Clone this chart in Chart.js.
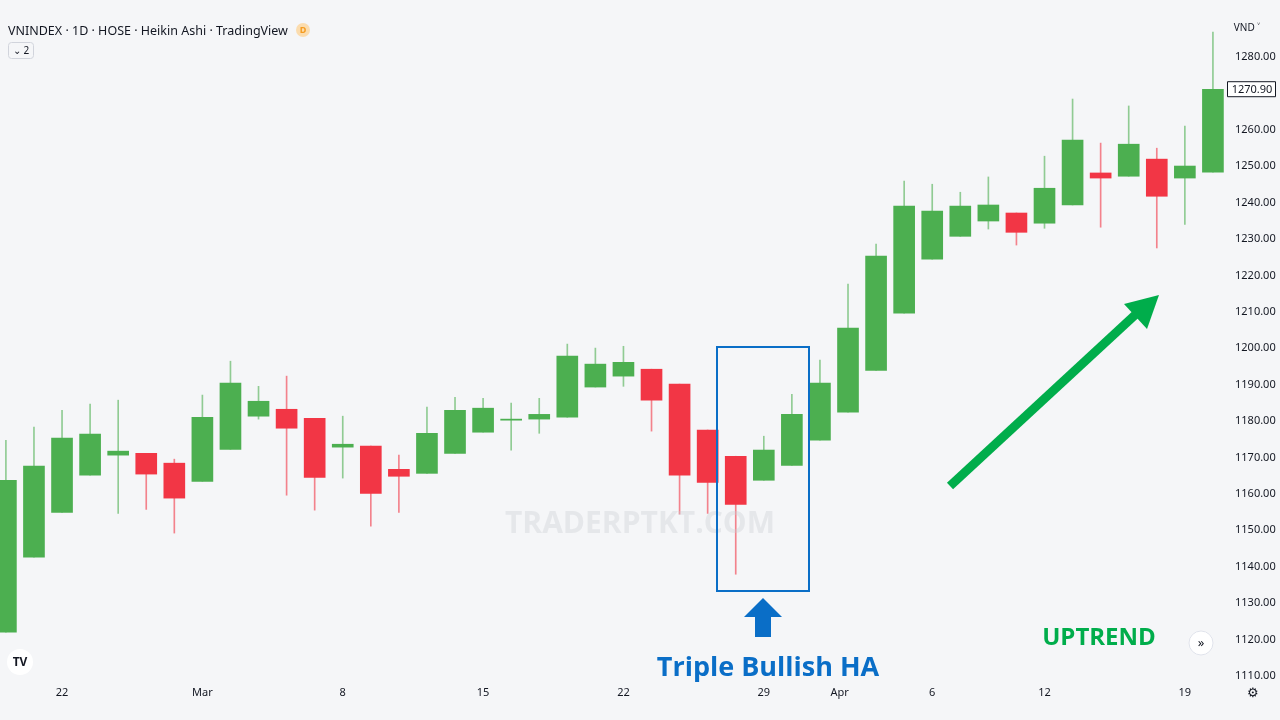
<!DOCTYPE html>
<html><head><meta charset="utf-8">
<script src="https://cdn.jsdelivr.net/npm/chart.js@4/dist/chart.umd.min.js"></script>
<style>html,body{margin:0;padding:0;background:#f5f6f8;}#w{width:1280px;height:720px;position:relative}</style>
</head><body><div id="w"><canvas id="c" width="1280" height="720"></canvas></div>
<script>
const opens  = [1121.8,1142.4,1154.7,1164.9,1170.4,1170.9,1168.2,1163.2,1172.0,1181.1,1183.0,1180.5,1172.6,1172.9,1166.5,1165.4,1170.9,1176.7,1180.0,1180.3,1180.8,1189.1,1192.1,1194.0,1189.9,1177.3,1170.1,1163.5,1167.6,1174.5,1182.2,1193.7,1209.4,1224.2,1230.5,1234.7,1236.9,1234.1,1239.1,1247.9,1247.0,1251.7,1246.5,1248.1];
const closes = [1163.5,1167.4,1175.1,1176.2,1171.5,1165.2,1158.6,1180.8,1190.2,1185.2,1177.8,1164.3,1173.4,1159.9,1164.6,1176.4,1182.7,1183.3,1180.3,1181.6,1197.6,1195.4,1195.9,1185.5,1164.9,1162.9,1156.9,1171.8,1181.6,1190.2,1205.3,1225.1,1238.8,1237.4,1238.8,1239.1,1231.6,1243.7,1256.9,1246.5,1255.8,1241.5,1249.8,1270.9];
const highs  = [1174.5,1178.1,1182.7,1184.4,1185.5,1170.9,1169.3,1186.9,1196.2,1189.3,1192.1,1180.5,1181.1,1172.9,1170.4,1183.6,1186.3,1186.0,1184.7,1186.0,1200.9,1199.8,1200.3,1194.0,1189.9,1177.3,1170.1,1175.6,1187.1,1196.5,1217.4,1228.4,1245.7,1244.8,1242.6,1246.8,1236.9,1252.5,1268.2,1256.1,1266.3,1254.7,1260.8,1286.6];
const lows   = [1121.8,1142.4,1154.7,1164.9,1154.4,1155.5,1149.0,1163.2,1172.0,1180.3,1159.4,1155.3,1164.1,1150.9,1154.7,1165.4,1170.9,1176.7,1171.8,1176.4,1180.8,1189.1,1189.3,1177.0,1154.2,1154.4,1137.7,1163.5,1167.6,1174.5,1182.2,1193.7,1209.4,1224.2,1230.5,1232.5,1228.1,1232.7,1239.1,1233.0,1247.0,1227.3,1233.8,1248.1];
const tickPositions = [2,7,12,17,22,27,29.7,33,37,42];
const tickTexts = ['22','Mar','8','15','22','29','Apr','6','12','19'];
const priceTicks = [1110,1120,1130,1140,1150,1160,1170,1180,1190,1200,1210,1220,1230,1240,1250,1260,1270,1280];
const lastPrice = 1270.90;

const G='#4caf50', R='#f23645';
const idx = opens.map((_,i)=>i);
const colors = idx.map(i=> closes[i]>=opens[i]?G:R);
const wickColors = idx.map(i=> closes[i]>=opens[i]?'rgba(76,175,80,0.6)':'rgba(242,54,69,0.6)');

const overlay = {
  id:'overlay',
  afterDraw(ch){
    const c=ch.ctx, xs=ch.scales.x, ys=ch.scales.y; c.save();
    c.fillStyle='#131722'; c.font='11px "Noto Sans", sans-serif'; c.textAlign='left';
    priceTicks.forEach(v=>{ if(v===1270) return; c.fillText(v.toFixed(2),1235,ys.getPixelForValue(v)+4); });
    c.textAlign='center';
    tickPositions.forEach((v,i)=>c.fillText(tickTexts[i],xs.getPixelForValue(v),696));
    c.fillStyle='rgba(200,202,208,0.35)'; c.font='bold 30px "Open Sans", sans-serif';
    c.fillText('TRADERPTKT.COM',640,533);
    c.textAlign='left'; c.fillStyle='#131722'; c.font='12.5px "Noto Sans", sans-serif';
    c.fillText('VNINDEX · 1D · HOSE · Heikin Ashi · TradingView',8,35);
    c.fillStyle='#fbdcae'; c.beginPath(); c.arc(303,30,7,0,Math.PI*2); c.fill();
    c.fillStyle='#f59b1f'; c.font='bold 9px "Noto Sans"'; c.textAlign='center'; c.fillText('D',303,33);
    c.strokeStyle='#d1d4dc'; c.lineWidth=1; c.beginPath(); c.roundRect(8.5,42.5,25,16,3); c.stroke();
    c.fillStyle='#131722'; c.font='10px "Noto Sans"'; c.fillText('⌄ 2',21,54);
    c.fillText('VND ˅',1247,31);
    const yp=ys.getPixelForValue(lastPrice);
    c.fillStyle='#fff'; c.strokeStyle='#131722'; c.beginPath(); c.rect(1227.5,yp-7.5,48,15); c.fill(); c.stroke();
    c.fillStyle='#131722'; c.font='11px "Noto Sans"'; c.fillText('1270.90',1252,yp+4);
    c.strokeStyle='#0a6ec7'; c.lineWidth=2; c.strokeRect(717,347,92,244);
    c.fillStyle='#0a6ec7'; c.beginPath(); c.moveTo(763,598); c.lineTo(782,617); c.lineTo(771,617); c.lineTo(771,637); c.lineTo(755,637); c.lineTo(755,617); c.lineTo(744,617); c.closePath(); c.fill();
    c.font='bold 27px "Open Sans", sans-serif'; c.fillText('Triple Bullish HA',768,676);
    c.strokeStyle='#00ad4b'; c.lineWidth=9; c.beginPath(); c.moveTo(950,486); c.lineTo(1135,315); c.stroke();
    c.fillStyle='#00ad4b'; c.beginPath(); c.moveTo(1159,295); c.lineTo(1124,304); c.lineTo(1147,329); c.closePath(); c.fill();
    c.font='bold 24px "Open Sans", sans-serif'; c.fillText('UPTREND',1099,645);
    c.fillStyle='#fff'; c.beginPath(); c.arc(20,662,13,0,Math.PI*2); c.fill();
    c.fillStyle='#131722'; c.font='bold 12px "Noto Sans"'; c.fillText('TV',20,666);
    c.fillStyle='#fff'; c.strokeStyle='#e0e3eb'; c.lineWidth=1; c.beginPath(); c.arc(1201,643,12,0,Math.PI*2); c.fill(); c.stroke();
    c.fillStyle='#131722'; c.font='13px "Noto Sans"'; c.fillText('»',1201,647);
    c.fillText('⚙',1253,697);
    c.restore();
  }
};

new Chart(document.getElementById('c'),{
  type:'bar',
  data:{datasets:[
    {data:idx.map(i=>({x:i,y:[lows[i],highs[i]]})),backgroundColor:wickColors,barThickness:1,grouped:false,order:2},
    {data:idx.map(i=>({x:i,y:[opens[i],closes[i]]})),backgroundColor:colors,barThickness:21,grouped:false,order:1,borderWidth:0}
  ]},
  options:{
    responsive:false,animation:false,
    layout:{padding:{top:0,bottom:38,left:0,right:55}},
    plugins:{legend:{display:false},tooltip:{enabled:false}},
    scales:{
      x:{type:'linear',display:false,offset:false,min:-0.21,max:43.43},
      y:{display:false,min:1108.1,max:1295.4}
    }
  },
  plugins:[overlay]
});
</script></body></html>
